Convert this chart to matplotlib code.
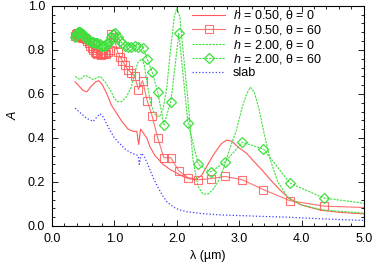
import matplotlib
matplotlib.use("Agg")
import matplotlib.pyplot as plt
from matplotlib.ticker import MultipleLocator

plt.rcParams['font.family'] = ['Liberation Sans', 'DejaVu Sans']
plt.rcParams['mathtext.fontset'] = 'custom'
plt.rcParams['mathtext.it'] = 'Liberation Sans:italic'
plt.rcParams['mathtext.rm'] = 'Liberation Sans'

# wavelength grid of the theta = 60 runs (markers at every point)
lam_grid = [0.372, 0.381, 0.394, 0.407, 0.421, 0.436, 0.449, 0.462, 0.477, 0.492,
            0.508, 0.526, 0.545, 0.565, 0.587, 0.610, 0.635, 0.663, 0.693, 0.709,
            0.726, 0.763, 0.782, 0.803, 0.824, 0.847, 0.871, 0.897, 0.924, 0.953,
            0.984, 1.017, 1.052, 1.089, 1.130,
            1.173, 1.220, 1.271, 1.326, 1.386, 1.452, 1.525, 1.605, 1.694, 1.794,
            1.906, 2.033, 2.179, 2.346, 2.542, 2.773, 3.050, 3.389, 3.812, 4.357,
            5.083]

# h = 0.50, theta = 60
a_h050_t60 = [0.865, 0.87, 0.875, 0.87, 0.865, 0.865, 0.86, 0.86, 0.855, 0.86,
              0.855, 0.855, 0.85, 0.84, 0.83, 0.82, 0.81, 0.80, 0.79, 0.785,
              0.78, 0.78, 0.775, 0.78, 0.78, 0.785, 0.78, 0.79, 0.80, 0.87,
              0.86, 0.83, 0.79, 0.77, 0.75,
              0.73, 0.71, 0.695, 0.68, 0.62, 0.66, 0.57, 0.50, 0.40, 0.31,
              0.31, 0.25, 0.22, 0.21, 0.215, 0.225, 0.21, 0.165, 0.115, 0.09,
              0.083]

# h = 2.00, theta = 60
a_h200_t60 = [0.86, 0.865, 0.87, 0.875, 0.88, 0.88, 0.88, 0.875, 0.87, 0.87,
              0.865, 0.86, 0.855, 0.85, 0.845, 0.84, 0.835, 0.835, 0.83, 0.83,
              0.83, 0.825, 0.82, 0.82, 0.82, 0.82, 0.825, 0.83, 0.84, 0.86,
              0.87, 0.875, 0.86, 0.84, 0.83,
              0.82, 0.815, 0.815, 0.82, 0.815, 0.81, 0.76, 0.70, 0.61, 0.46,
              0.565, 0.875, 0.47, 0.28, 0.245, 0.29, 0.38, 0.35, 0.195, 0.127,
              0.10]

# h = 0.50, theta = 0
lam_h050_t0 = [0.37, 0.42, 0.50, 0.56, 0.63, 0.70, 0.75, 0.80, 0.88, 0.95,
               1.04, 1.12, 1.22, 1.30, 1.36, 1.39, 1.42, 1.47, 1.52, 1.57,
               1.65, 1.78, 1.90, 2.00, 2.10, 2.20, 2.30, 2.40, 2.48, 2.56,
               2.64, 2.72, 2.80, 2.88, 3.00, 3.12, 3.23, 3.38, 3.50, 3.65,
               3.80, 4.00, 4.30, 4.60, 5.00]
a_h050_t0 = [0.655, 0.64, 0.615, 0.61, 0.635, 0.655, 0.66, 0.645, 0.60, 0.55,
             0.51, 0.475, 0.44, 0.43, 0.43, 0.37, 0.44, 0.42, 0.40, 0.36,
             0.32, 0.28, 0.255, 0.24, 0.225, 0.215, 0.21, 0.23, 0.27, 0.31,
             0.345, 0.375, 0.39, 0.385, 0.355, 0.33, 0.295, 0.25, 0.21, 0.165,
             0.125, 0.095, 0.072, 0.062, 0.055]

# h = 2.00, theta = 0
lam_h200_t0 = [0.37, 0.45, 0.53, 0.60, 0.66, 0.77, 0.85, 0.93, 1.00, 1.05,
               1.12, 1.20, 1.27, 1.33, 1.38, 1.44, 1.48, 1.53, 1.58, 1.64,
               1.72, 1.78, 1.84, 1.90, 1.96, 2.00, 2.05, 2.10, 2.18, 2.26,
               2.34, 2.42, 2.50, 2.58, 2.66, 2.75, 2.85, 2.95, 3.05, 3.12,
               3.18, 3.24, 3.32, 3.40, 3.50, 3.62, 3.78, 4.00, 4.35, 5.00]
a_h200_t0 = [0.68, 0.665, 0.685, 0.675, 0.665, 0.68, 0.655, 0.62, 0.58, 0.565,
             0.565, 0.59, 0.63, 0.70, 0.745, 0.76, 0.73, 0.64, 0.56, 0.51,
             0.495, 0.53, 0.63, 0.80, 0.95, 0.99, 0.95, 0.80, 0.57, 0.30,
             0.18, 0.145, 0.145, 0.165, 0.20, 0.26, 0.35, 0.43, 0.54, 0.60,
             0.63, 0.61, 0.53, 0.42, 0.30, 0.20, 0.13, 0.095, 0.072, 0.058]

# slab
lam_slab = [0.37, 0.45, 0.55, 0.66, 0.72, 0.77, 0.82, 0.90, 1.00, 1.10,
            1.17, 1.25, 1.33, 1.38, 1.40, 1.43, 1.47, 1.52, 1.57, 1.62,
            1.70, 1.78, 1.84, 1.95, 2.05, 2.16, 2.40, 2.70, 3.00, 3.40,
            3.76, 4.20, 4.60, 5.00]
a_slab = [0.535, 0.515, 0.49, 0.475, 0.495, 0.51, 0.495, 0.45, 0.40, 0.37,
          0.35, 0.335, 0.325, 0.32, 0.28, 0.33, 0.32, 0.29, 0.255, 0.22,
          0.175, 0.135, 0.11, 0.085, 0.072, 0.065, 0.056, 0.05, 0.047, 0.043,
          0.04, 0.034, 0.029, 0.025]

red = '#ff5a5a'
green = '#3ee03e'
blue = '#3c3cff'

fig = plt.figure(figsize=(3.74, 2.68), dpi=100)
ax = fig.add_axes([0.139, 0.157, 0.834, 0.821])

ax.plot(lam_h050_t0, a_h050_t0, '-', color=red, lw=0.8, label='$h$ = 0.50, θ = 0')
ax.plot(lam_grid, a_h050_t60, '-', color=red, lw=0.8, marker='s', ms=6,
        mfc='none', mec=red, mew=0.8, alpha=0.85, label='$h$ = 0.50, θ = 60')
ax.plot(lam_h200_t0, a_h200_t0, '--', color=green, lw=0.8, dashes=(2, 1),
        label='$h$ = 2.00, θ = 0')
ax.plot(lam_grid, a_h200_t60, '--', color=green, lw=0.8, dashes=(2, 1), marker='D',
        ms=5, mfc='none', mec=green, mew=0.9, label='$h$ = 2.00, θ = 60')
ax.plot(lam_slab, a_slab, ':', color=blue, lw=0.9, label='slab')

ax.set_xlim(0, 5)
ax.set_ylim(0, 1)
ax.xaxis.set_major_locator(MultipleLocator(1.0))
ax.xaxis.set_minor_locator(MultipleLocator(0.2))
ax.yaxis.set_major_locator(MultipleLocator(0.2))
ax.yaxis.set_minor_locator(MultipleLocator(0.04))
ax.xaxis.set_major_formatter(plt.FuncFormatter(lambda v, p: f'{v:.1f}'))
ax.yaxis.set_major_formatter(plt.FuncFormatter(lambda v, p: f'{v:.1f}'))
ax.tick_params(which='both', direction='in', top=True, right=True, labelsize=9,
               width=0.6, pad=5)
ax.tick_params(which='major', length=4)
ax.tick_params(which='minor', length=2.5)
for s in ax.spines.values():
    s.set_linewidth(0.8)

ax.set_xlabel('λ (µm)', fontsize=9, labelpad=4)
ax.set_ylabel('A', fontsize=9, fontstyle='italic', labelpad=6)

ax.legend(loc='upper left', bbox_to_anchor=(0.44, 1.0), frameon=False, fontsize=9,
          handlelength=2.7, handletextpad=0.6, labelspacing=0.05, borderpad=0.2,
          borderaxespad=0)

fig.savefig('out.png', dpi=100)
